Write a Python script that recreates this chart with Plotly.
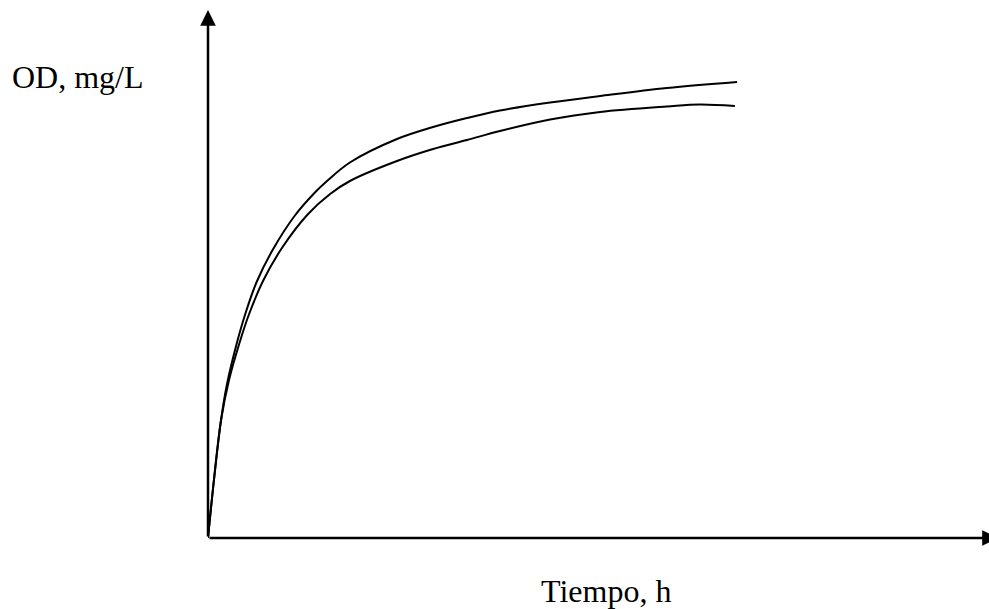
import plotly.graph_objects as go

# Tiempo (h) and OD (mg/L)
t_upper = [0, 0.27, 0.59, 0.86, 1.30, 1.68, 2.21, 2.95, 3.95, 4.86, 5.41, 6.45,
           8.59, 10.23, 11.77, 13.27, 15.55, 17.82, 20.86, 24.05]
od_upper = [0, 1.16, 2.35, 3.07, 3.88, 4.46, 5.12, 5.77, 6.45, 6.91, 7.14, 7.51,
            7.98, 8.22, 8.40, 8.55, 8.71, 8.84, 9.00, 9.12]

t_lower = [0, 0.27, 0.59, 0.95, 1.41, 1.86, 2.50, 3.36, 4.55, 5.55, 6.45,
           8.59, 10.23, 11.77, 13.27, 15.55, 17.82, 20.86, 22.36, 23.95]
od_lower = [0, 1.16, 2.35, 3.15, 3.87, 4.47, 5.14, 5.80, 6.48, 6.88, 7.14,
            7.54, 7.78, 7.96, 8.14, 8.37, 8.52, 8.63, 8.67, 8.64]

x_label = "Tiempo, h"
y_label = "OD, mg/L"

X_MAX = 35.5
Y_MAX = 10.56
X_ARROW_TIP = 35.9

fig = go.Figure()
for t, od in [(t_upper, od_upper), (t_lower, od_lower)]:
    fig.add_trace(go.Scatter(x=t, y=od, mode="lines",
                             line=dict(color="black", width=2, shape="spline", smoothing=1.0),
                             hoverinfo="skip", showlegend=False))

serif = "Liberation Serif, Times New Roman, serif"

annotations = [
    # y axis with arrow
    dict(x=0, y=Y_MAX, ax=0, ay=0, xref="x", yref="y", axref="x", ayref="y",
         showarrow=True, arrowhead=2, arrowsize=1.25, arrowwidth=2.5,
         arrowcolor="black", text="", standoff=0, startstandoff=0),
    # x axis with arrow
    dict(x=X_ARROW_TIP, y=0, ax=0, ay=0, xref="x", yref="y", axref="x", ayref="y",
         showarrow=True, arrowhead=2, arrowsize=1.25, arrowwidth=2.5,
         arrowcolor="black", text="", standoff=0, startstandoff=0),
    dict(x=-0.2535, y=0.873, xref="paper", yref="paper", text=y_label,
         showarrow=False, xanchor="left", yanchor="middle",
         font=dict(family=serif, size=32, color="black")),
    dict(x=0.5096, y=-0.101, xref="paper", yref="paper", text=x_label,
         showarrow=False, xanchor="center", yanchor="middle",
         font=dict(family=serif, size=32, color="black")),
]

fig.update_layout(
    width=989, height=609,
    margin=dict(l=208, r=0, t=10, b=71),
    paper_bgcolor="white", plot_bgcolor="white",
    xaxis=dict(range=[0, X_MAX], showgrid=False, zeroline=False, showline=False,
               showticklabels=False, ticks=""),
    yaxis=dict(range=[0, Y_MAX], showgrid=False, zeroline=False, showline=False,
               showticklabels=False, ticks=""),
    annotations=annotations,
)

fig.write_html(
    "out.html",
    config={"displayModeBar": False},
    post_script="document.body.style.margin='0';document.body.style.overflow='hidden';",
)
